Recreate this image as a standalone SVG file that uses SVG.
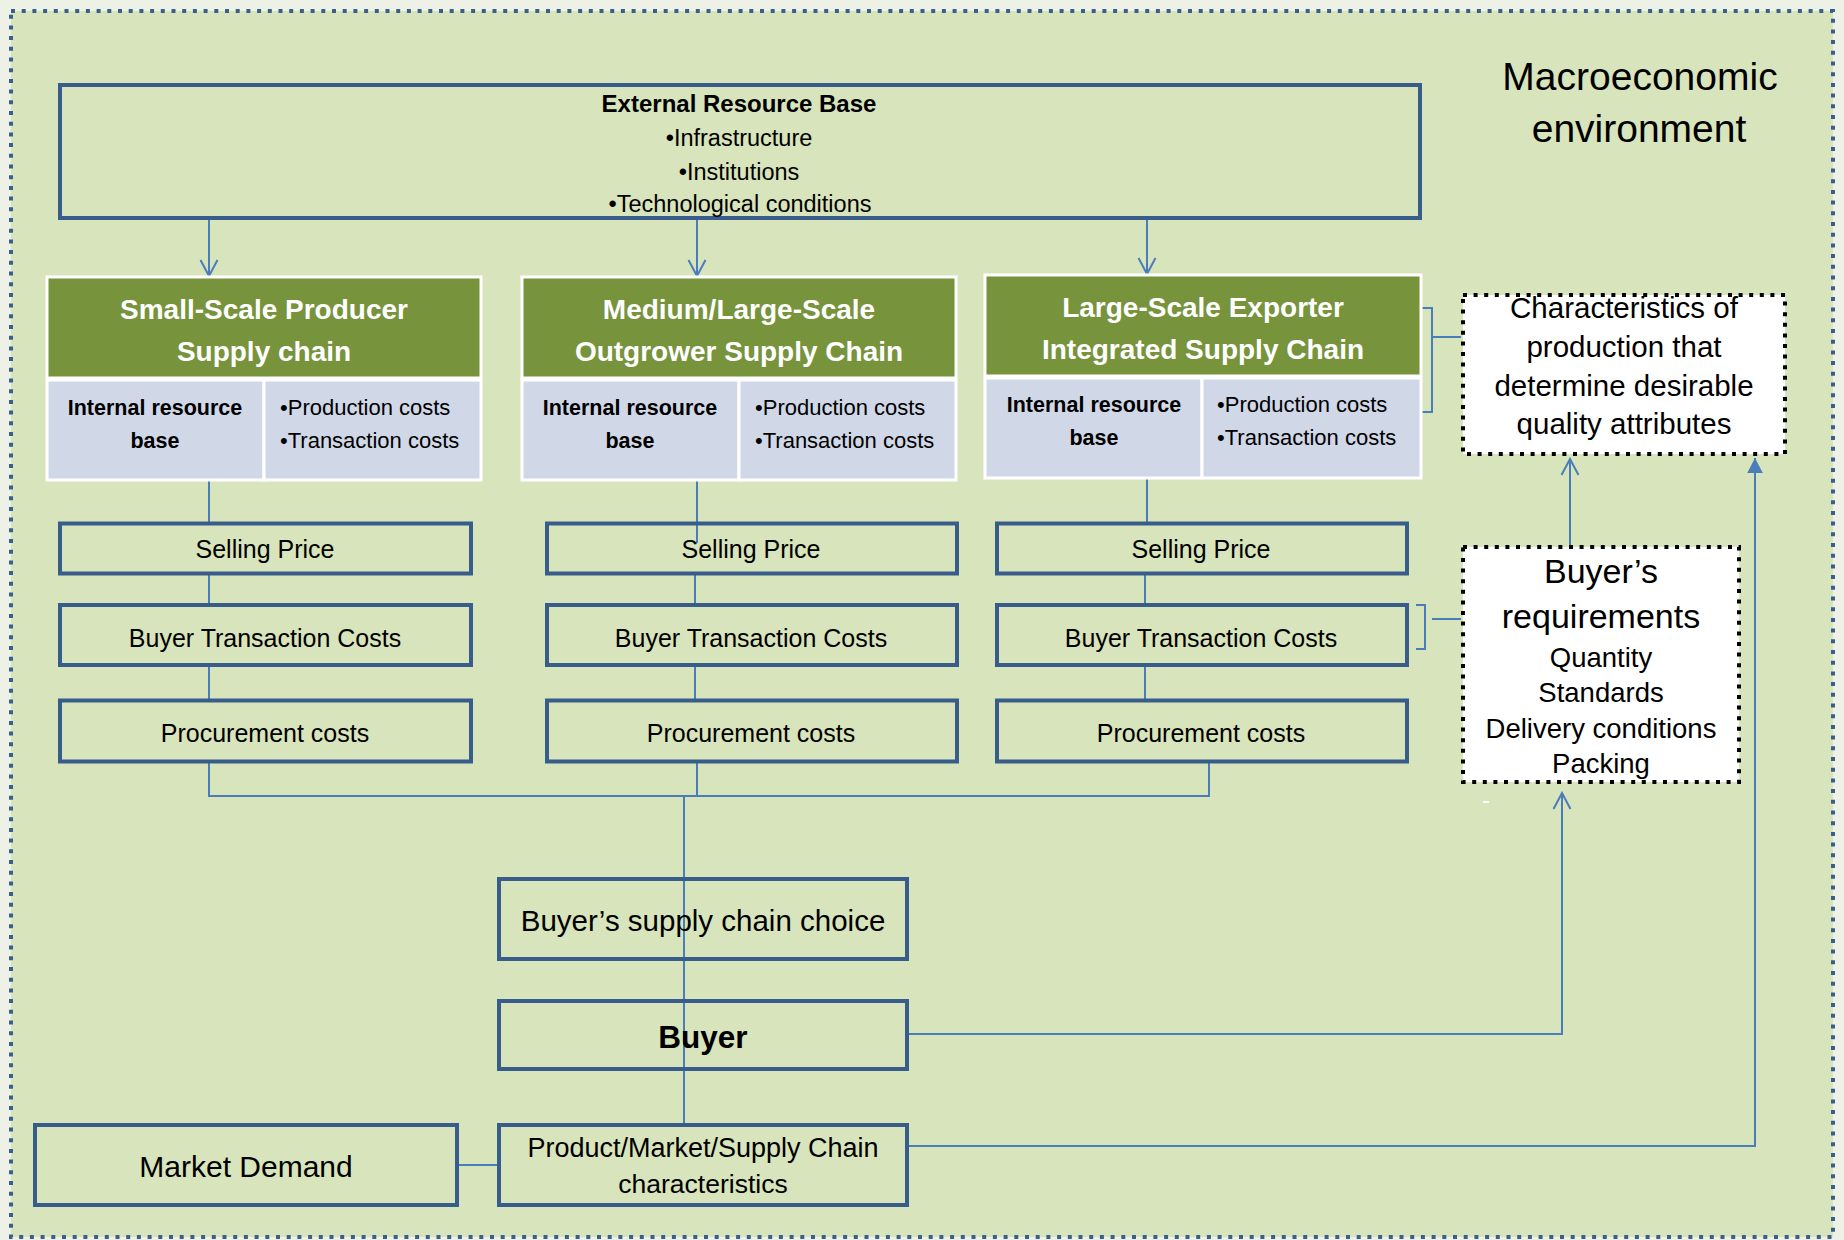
<svg xmlns="http://www.w3.org/2000/svg" width="1844" height="1240" viewBox="0 0 1844 1240">
  <style>
    text { font-family: "Liberation Sans", Arial, sans-serif; fill: #000; }
    .box { fill: none; stroke: #385D8A; stroke-width: 4; }
    .dot { fill: #fff; stroke: #000; stroke-width: 4; stroke-dasharray: 4 6.6; }
    .hdr { fill: #77933C; stroke: #fff; stroke-width: 3; }
    .cell { fill: #D0D8E8; stroke: #fff; stroke-width: 3; }
    .ln { fill: none; stroke: #4A7EBB; stroke-width: 2; }
    .ht { font-size: 28px; font-weight: bold; fill: #fff; text-anchor: middle; }
    .irb { font-size: 21.5px; font-weight: bold; text-anchor: middle; }
    .bul { font-size: 22px; }
    .row { font-size: 25px; text-anchor: middle; }
    .mid { text-anchor: middle; }
  </style>
  <defs>
    <marker id="open" markerUnits="userSpaceOnUse" viewBox="-18 -11 20 22" refX="0" refY="0" markerWidth="20" markerHeight="22" orient="auto">
      <path d="M-16,-8.5 L0,0 L-16,8.5" fill="none" stroke="#4A7EBB" stroke-width="2"/>
    </marker>
    <marker id="solid" markerUnits="userSpaceOnUse" viewBox="-17 -10 19 20" refX="0" refY="0" markerWidth="19" markerHeight="20" orient="auto">
      <path d="M-15,-7.8 L0,0 L-15,7.8 Z" fill="#4A7EBB"/>
    </marker>
  </defs>

  <!-- page and macroeconomic frame -->
  <rect x="0" y="0" width="1844" height="1240" fill="#EEF1E6"/>
  <rect x="11" y="11" width="1822" height="1226" fill="#D8E4BC" stroke="#3A5F8F" stroke-width="4" stroke-dasharray="4 6.7"/>
  <g id="macro-label">
    <text class="mid" x="1640" y="90" font-size="39">Macroeconomic</text>
    <text class="mid" x="1639" y="141.5" font-size="39">environment</text>
  </g>

  <!-- connectors -->
  <g id="connectors">
    <line class="ln" x1="209" y1="220" x2="209" y2="276" marker-end="url(#open)"/>
    <line class="ln" x1="697" y1="220" x2="697" y2="276" marker-end="url(#open)"/>
    <line class="ln" x1="1147" y1="220" x2="1147" y2="274" marker-end="url(#open)"/>

    <line class="ln" x1="209" y1="480" x2="209" y2="522"/>
    <line class="ln" x1="209" y1="575" x2="209" y2="604"/>
    <line class="ln" x1="209" y1="667" x2="209" y2="700"/>
    <line class="ln" x1="209" y1="763" x2="209" y2="796"/>

    <line class="ln" x1="697" y1="480" x2="697" y2="543"/>
    <line class="ln" x1="695" y1="575" x2="695" y2="604"/>
    <line class="ln" x1="695" y1="667" x2="695" y2="700"/>
    <line class="ln" x1="697" y1="763" x2="697" y2="796"/>

    <line class="ln" x1="1147" y1="478" x2="1147" y2="522"/>
    <line class="ln" x1="1145" y1="575" x2="1145" y2="604"/>
    <line class="ln" x1="1145" y1="667" x2="1145" y2="700"/>
    <line class="ln" x1="1209" y1="763" x2="1209" y2="796"/>

    <line class="ln" x1="208" y1="796" x2="1210" y2="796"/>
    <line class="ln" x1="684" y1="796" x2="684" y2="1124"/>
    <line class="ln" x1="459" y1="1165" x2="497" y2="1165"/>

    <polyline class="ln" points="909,1034 1562,1034 1562,793" marker-end="url(#open)"/>
    <polyline class="ln" points="909,1146 1755,1146 1755,458" marker-end="url(#solid)"/>
    <line class="ln" x1="1570" y1="545" x2="1570" y2="459" marker-end="url(#open)"/>

    <path class="ln" d="M1422,308 H1432 V412 H1422 M1432,337 H1461"/>
    <path class="ln" d="M1416,605 H1425 V649 H1416 M1432,619 H1461"/>
  </g>

  <!-- external resource base -->
  <g id="external-resource-base">
    <rect class="box" x="60" y="85" width="1360" height="133"/>
    <text class="mid" x="739" y="112" font-size="24" font-weight="bold">External Resource Base</text>
    <text class="mid" x="739" y="146" font-size="23.5">•Infrastructure</text>
    <text class="mid" x="739" y="179.5" font-size="23.5">•Institutions</text>
    <text class="mid" x="740" y="212" font-size="23.5">•Technological conditions</text>
  </g>

  <!-- supply chain column 1 -->
  <g id="small-scale-producer">
    <rect class="hdr" x="47" y="277" width="434" height="101"/>
    <rect class="cell" x="47" y="380" width="217" height="100"/>
    <rect class="cell" x="264" y="380" width="217" height="100"/>
    <text class="ht" x="264" y="319">Small-Scale Producer</text>
    <text class="ht" x="264" y="361">Supply chain</text>
    <text class="irb" x="155" y="414.5">Internal resource</text>
    <text class="irb" x="155" y="447.5">base</text>
    <text class="bul" x="280" y="414.5">•Production costs</text>
    <text class="bul" x="280" y="447.5">•Transaction costs</text>
  </g>

  <!-- supply chain column 2 -->
  <g id="medium-large-outgrower">
    <rect class="hdr" x="522" y="277" width="434" height="101"/>
    <rect class="cell" x="522" y="380" width="217" height="100"/>
    <rect class="cell" x="739" y="380" width="217" height="100"/>
    <text class="ht" x="739" y="319">Medium/Large-Scale</text>
    <text class="ht" x="739" y="361">Outgrower Supply Chain</text>
    <text class="irb" x="630" y="414.5">Internal resource</text>
    <text class="irb" x="630" y="447.5">base</text>
    <text class="bul" x="755" y="414.5">•Production costs</text>
    <text class="bul" x="755" y="447.5">•Transaction costs</text>
  </g>

  <!-- supply chain column 3 -->
  <g id="large-scale-exporter">
    <rect class="hdr" x="985" y="275" width="436" height="101"/>
    <rect class="cell" x="985" y="378" width="217" height="100"/>
    <rect class="cell" x="1202" y="378" width="219" height="100"/>
    <text class="ht" x="1203" y="317">Large-Scale Exporter</text>
    <text class="ht" x="1203" y="359">Integrated Supply Chain</text>
    <text class="irb" x="1094" y="412">Internal resource</text>
    <text class="irb" x="1094" y="445">base</text>
    <text class="bul" x="1217" y="412">•Production costs</text>
    <text class="bul" x="1217" y="445">•Transaction costs</text>
  </g>

  <!-- cost rows -->
  <g id="selling-price-1"><rect class="box" x="60" y="523.5" width="411" height="50"/><text class="row" x="265" y="557.5">Selling Price</text></g>
  <g id="buyer-tc-1"><rect class="box" x="60" y="605" width="411" height="60"/><text class="row" x="265" y="646.5">Buyer Transaction  Costs</text></g>
  <g id="procurement-1"><rect class="box" x="60" y="700.5" width="411" height="61"/><text class="row" x="265" y="741.5">Procurement costs</text></g>

  <g id="selling-price-2"><rect class="box" x="547" y="523.5" width="410" height="50"/><text class="row" x="751" y="557.5">Selling Price</text></g>
  <g id="buyer-tc-2"><rect class="box" x="547" y="605" width="410" height="60"/><text class="row" x="751" y="646.5">Buyer Transaction  Costs</text></g>
  <g id="procurement-2"><rect class="box" x="547" y="700.5" width="410" height="61"/><text class="row" x="751" y="741.5">Procurement costs</text></g>

  <g id="selling-price-3"><rect class="box" x="997" y="523.5" width="410" height="50"/><text class="row" x="1201" y="557.5">Selling Price</text></g>
  <g id="buyer-tc-3"><rect class="box" x="997" y="605" width="410" height="60"/><text class="row" x="1201" y="646.5">Buyer Transaction  Costs</text></g>
  <g id="procurement-3"><rect class="box" x="997" y="700.5" width="410" height="61"/><text class="row" x="1201" y="741.5">Procurement costs</text></g>

  <!-- buyer side -->
  <g id="supply-chain-choice">
    <rect class="box" x="499" y="879" width="408" height="80"/>
    <text class="mid" x="703" y="930.5" font-size="29.5">Buyer’s supply chain choice</text>
  </g>
  <g id="buyer">
    <rect class="box" x="499" y="1001" width="408" height="68"/>
    <text class="mid" x="703" y="1048" font-size="31.5" font-weight="bold">Buyer</text>
  </g>
  <g id="product-market">
    <rect class="box" x="499" y="1125" width="408" height="80"/>
    <text class="mid" x="703" y="1156.5" font-size="27">Product/Market/Supply Chain</text>
    <text class="mid" x="703" y="1193" font-size="26.5">characteristics</text>
  </g>
  <g id="market-demand">
    <rect class="box" x="35" y="1125" width="422" height="80"/>
    <text class="mid" x="246" y="1176.5" font-size="30">Market Demand</text>
  </g>

  <!-- quality attributes and requirements -->
  <g id="production-characteristics">
    <rect class="dot" x="1463" y="295" width="322" height="159"/>
    <text class="mid" x="1624" y="318" font-size="29.5">Characteristics of</text>
    <text class="mid" x="1624" y="357" font-size="29.5">production that</text>
    <text class="mid" x="1624" y="395.5" font-size="29.5">determine desirable</text>
    <text class="mid" x="1624" y="434" font-size="29.5">quality attributes</text>
  </g>
  <g id="buyer-requirements">
    <rect class="dot" x="1463" y="547" width="276" height="235"/>
    <text class="mid" x="1601" y="583" font-size="34">Buyer’s</text>
    <text class="mid" x="1601" y="628" font-size="34">requirements</text>
    <text class="mid" x="1601" y="667" font-size="27.5">Quantity</text>
    <text class="mid" x="1601" y="702" font-size="27.5">Standards</text>
    <text class="mid" x="1601" y="738" font-size="27.5">Delivery conditions</text>
    <text class="mid" x="1601" y="773" font-size="27.5">Packing</text>
  </g>
  <rect x="1483" y="801" width="6" height="2" fill="#fff"/>
</svg>
